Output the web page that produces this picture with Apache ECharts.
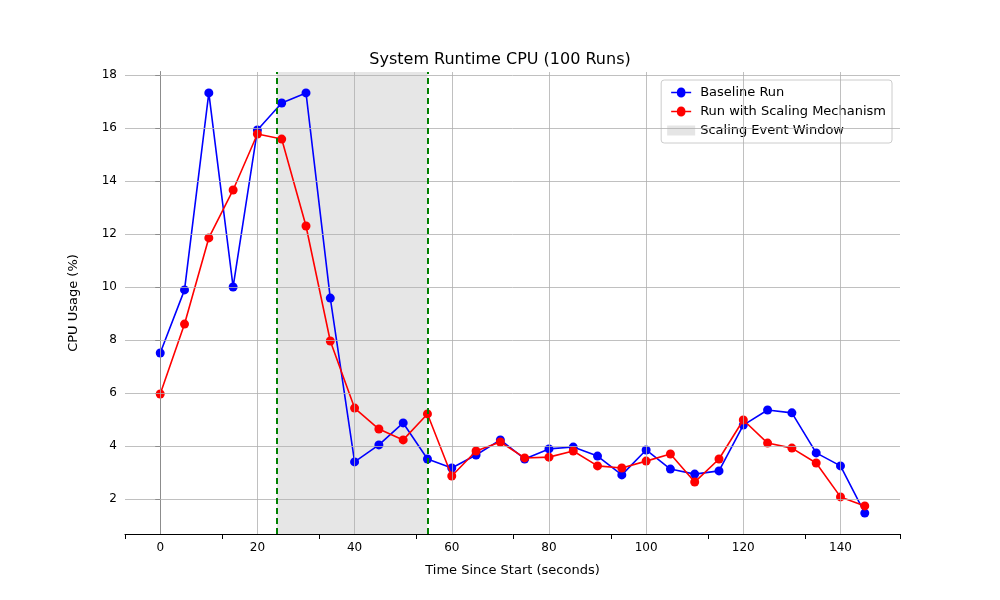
<!DOCTYPE html>
<html><head><meta charset="utf-8">
<script src="https://cdn.jsdelivr.net/npm/echarts@6/dist/echarts.min.js"></script>
<style>html,body{margin:0;background:#fff}#c{width:1000px;height:600px}</style>
</head><body><div id="c"></div>
<script>
const times = [0,5,10,15,20,25,30,35,40,45,50,55,60,65,70,75,80,85,90,95,100,105,110,115,120,125,130,135,140,145];
const baseline = [7.51,9.89,17.32,10.0,15.92,16.94,17.32,9.58,3.40,4.04,4.87,3.51,3.17,3.66,4.23,3.51,3.89,3.96,3.62,2.91,3.85,3.13,2.94,3.06,4.79,5.36,5.25,3.74,3.25,1.47];
const scaling = [5.96,8.6,11.85,13.66,15.77,15.58,12.3,7.96,5.43,4.64,4.23,5.21,2.87,3.81,4.15,3.55,3.58,3.81,3.25,3.17,3.43,3.70,2.64,3.51,4.98,4.11,3.92,3.36,2.08,1.74];
const windowStart = 24, windowEnd = 55;
const ff = 'DejaVu Sans';
const chart = echarts.init(document.getElementById('c'));
chart.setOption({
  animation:false,
  title:{text:'System Runtime CPU (100 Runs)',left:'center',top:47,textStyle:{fontFamily:ff,fontSize:16,fontWeight:'normal',color:'#000'}},
  grid:{left:125,right:100,top:72,bottom:66},
  legend:{right:108,top:80,orient:'vertical',itemGap:6,backgroundColor:'#fff',borderColor:'#ccc',borderWidth:1,borderRadius:3,padding:[6,6],
    textStyle:{fontFamily:ff,fontSize:13,color:'#000'},
    data:[{name:'Baseline Run',icon:'path://M0,5h4a3,3 0 1,1 6,0h4v1h-4a3,3 0 1,1 -6,0h-4z'},{name:'Run with Scaling Mechanism',icon:'path://M0,5h4a3,3 0 1,1 6,0h4v1h-4a3,3 0 1,1 -6,0h-4z'},{name:'Scaling Event Window',icon:'rect'}],
    itemWidth:28,itemHeight:10},
  xAxis:{type:'value',min:-7.25,max:152.25,interval:20,name:'Time Since Start (seconds)',nameLocation:'middle',nameGap:30,
    nameTextStyle:{fontFamily:ff,fontSize:13,color:'#000'},
    axisLine:{onZero:false,lineStyle:{color:'#000'}},axisTick:{show:true,length:5,lineStyle:{color:'#000'}},
    axisLabel:{fontFamily:ff,fontSize:12,color:'#000',customValues:[0,20,40,60,80,100,120,140]},
    splitLine:{show:false}},
  yAxis:{type:'value',min:0.68,max:18.11,name:'CPU Usage (%)',nameLocation:'middle',nameGap:45,
    nameTextStyle:{fontFamily:ff,fontSize:13,color:'#000'},
    axisLine:{show:true,lineStyle:{color:'#000'}},axisTick:{show:true,length:5,lineStyle:{color:'#000'},customValues:[2,4,6,8,10,12,14,16,18]},
    axisLabel:{fontFamily:ff,fontSize:12,color:'#000',customValues:[2,4,6,8,10,12,14,16,18]},
    splitLine:{show:false}},
  series:[
    {name:'grid',type:'line',data:[],silent:true,
     markLine:{silent:true,symbol:'none',label:{show:false},lineStyle:{color:'#b0b0b0',type:'solid',width:0.8},
       data:[0,20,40,60,80,100,120,140].map(v=>({xAxis:v})).concat([2,4,6,8,10,12,14,16,18].map(v=>({yAxis:v})))}},
    {name:'Scaling Event Window',type:'line',data:[],itemStyle:{color:'#e5e5e5',borderColor:'#ccc'},
     markArea:{silent:true,itemStyle:{color:'rgba(128,128,128,0.2)'},data:[[{xAxis:windowStart},{xAxis:windowEnd}]]},
     markLine:{silent:true,symbol:'none',label:{show:false},lineStyle:{color:'green',type:[6,4],width:2},data:[{xAxis:windowStart},{xAxis:windowEnd}]}},
    {name:'Baseline Run',type:'line',data:times.map((t,i)=>[t,baseline[i]]),symbol:'circle',symbolSize:9,lineStyle:{color:'#0000ff',width:1.6},itemStyle:{color:'#0000ff'},z:3},
    {name:'Run with Scaling Mechanism',type:'line',data:times.map((t,i)=>[t,scaling[i]]),symbol:'circle',symbolSize:9,lineStyle:{color:'#ff0000',width:1.6},itemStyle:{color:'#ff0000'},z:4}
  ]
});
</script></body></html>
